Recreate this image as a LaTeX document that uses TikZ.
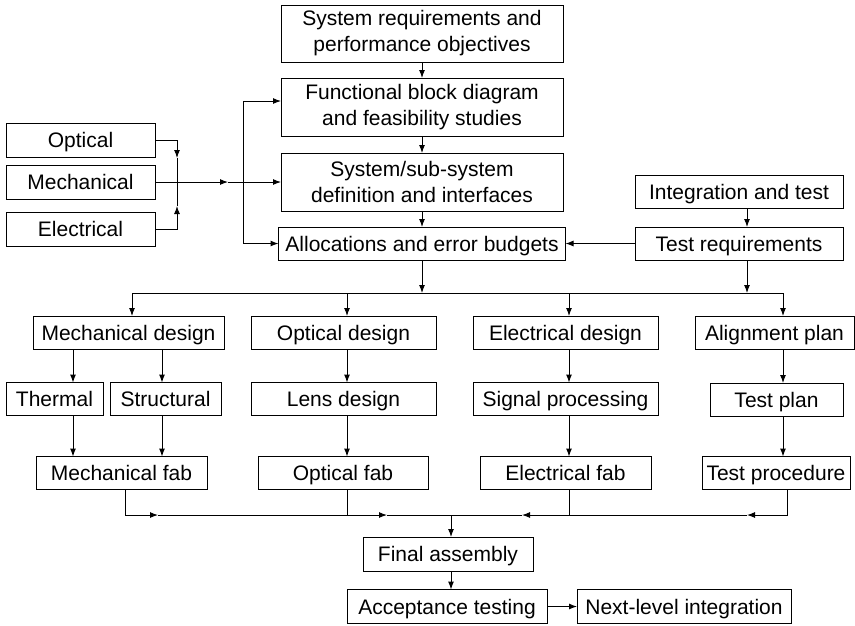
\documentclass[tikz,border=0pt]{standalone}
\usepackage{fontspec}
\setmainfont{Liberation Sans}
\usetikzlibrary{arrows.meta}

\begin{document}
\begin{tikzpicture}[x=1pt, y=-1pt, line width=1pt,
  >={Latex[length=8pt,width=6pt]},
  block/.style={draw=black, rectangle, inner sep=2pt, outer sep=0pt, align=center,
    font={\fontsize{21}{26}\selectfont}, minimum height=33pt},
  oneline/.style={block, text height=18pt, text depth=3pt}]
\useasboundingbox (0,0) rectangle (855,625);
% columns
\coordinate (c1) at (132,0);
\coordinate (c2) at (347,0);
\coordinate (c3) at (569,0);
\coordinate (c4) at (783,0);
\coordinate (tcol) at (73,0);
\coordinate (scol) at (162,0);
% top chain
\node[block, minimum width=282pt, minimum height=57pt] (sysreq) at (422,33.5) {System requirements and\\performance objectives};
\node[block, minimum width=282pt, minimum height=58pt] (func) at (422,107) {Functional block diagram\\and feasibility studies};
\node[block, minimum width=282pt, minimum height=58pt] (sysdef) at (422,182) {System/sub-system\\definition and interfaces};
\node[oneline, minimum width=287pt] (alloc) at (422,243.5) {Allocations and error budgets};
\node[oneline, minimum width=149pt, minimum height=34pt] (optical) at (80.5,140) {Optical};
\node[oneline, minimum width=149pt, minimum height=34pt] (mechanical) at (80.5,182) {Mechanical};
\node[oneline, minimum width=149pt, minimum height=34pt] (electrical) at (80.5,229) {Electrical};
\node[oneline, minimum width=208pt] (integ) at (739,191.5) {Integration and test};
\node[oneline, minimum width=208pt] (testreq) at (739,243.5) {Test requirements};
% design row
\node[oneline, minimum width=191pt] (mechdes) at (128.5,332.5) {Mechanical design};
\node[oneline, minimum width=185pt] (optdes) at (343.5,332.5) {Optical design};
\node[oneline, minimum width=185pt] (eldes) at (565.5,332.5) {Electrical design};
\node[oneline, minimum width=159pt] (align) at (774.5,332.5) {Alignment plan};
\node[oneline, minimum width=97pt] (thermal) at (54.5,399) {Thermal};
\node[oneline, minimum width=111pt] (structural) at (165.5,399) {Structural};
\node[oneline, minimum width=185pt] (lens) at (343.5,399) {Lens design};
\node[oneline, minimum width=185pt] (signal) at (565.5,399) {Signal processing};
\node[oneline, minimum width=133pt] (testplan) at (776.5,399.5) {Test plan};
\node[oneline, minimum width=171pt] (mechfab) at (121.5,473) {Mechanical fab};
\node[oneline, minimum width=170pt] (optfab) at (343,473) {Optical fab};
\node[oneline, minimum width=171pt] (elfab) at (565.5,473) {Electrical fab};
\node[oneline, minimum width=148pt] (testproc) at (776,473) {Test procedure};
\node[oneline, minimum width=170pt, minimum height=34pt] (final) at (448,554) {Final assembly};
\node[oneline, minimum width=200pt, minimum height=34pt] (accept) at (447,606.5) {Acceptance testing};
\node[oneline, minimum width=214pt, minimum height=34pt] (next) at (684,606.5) {Next-level integration};
% inputs on the left
\coordinate (otip) at (177,158);
\coordinate (etip) at (177,206);
\coordinate (merge) at (177,182);
\coordinate (mtip) at (228,182);
\coordinate (fork) at (243,182);
\draw[->] (optical) -| (otip);
\draw (otip) -- (merge);
\draw[->] (electrical) -| (etip);
\draw (etip) -- (merge);
\draw[->] (mechanical) -- (mtip);
\draw[->] (mtip) -- (sysdef);
\draw[->] (fork) |- ([yshift=6pt]func.west);
\draw[->] (fork) |- (alloc.west);
% top chain
\draw[->] (sysreq) -- (func);
\draw[->] (func) -- (sysdef);
\draw[->] (sysdef) -- (alloc);
\draw[->] ([xshift=8pt]integ.south) -- ([xshift=8pt]testreq.north);
\draw[->] (testreq) -- (alloc);
% split bus
\coordinate (bus) at (422,293);
\draw[->] (alloc) -- (bus);
\draw[->] ([xshift=8pt]testreq.south) -- ([xshift=8pt]testreq.south |- bus);
\draw[->] (bus) -| (mechdes.north -| c1);
\draw[->] (bus) -| (optdes.north -| c2);
\draw[->] (bus) -| (eldes.north -| c3);
\draw[->] (bus) -| (align.north -| c4);
% columns
\draw[->] (mechdes.south -| tcol) -- (thermal.north -| tcol);
\draw[->] (mechdes.south -| scol) -- (structural.north -| scol);
\draw[->] (thermal.south -| tcol) -- (mechfab.north -| tcol);
\draw[->] (structural.south -| scol) -- (mechfab.north -| scol);
\draw[->] (optdes.south -| c2) -- (lens.north -| c2);
\draw[->] (lens.south -| c2) -- (optfab.north -| c2);
\draw[->] (eldes.south -| c3) -- (signal.north -| c3);
\draw[->] (signal.south -| c3) -- (elfab.north -| c3);
\draw[->] (align.south -| c4) -- (testplan.north -| c4);
\draw[->] (testplan.south -| c4) -- (testproc.north -| c4);
% merge bus
\coordinate (join) at (451,515);
\coordinate (f1) at (125,515);
\coordinate (f4) at (787,515);
\coordinate (ltip1) at (158,515);
\coordinate (ltip2) at (387,515);
\coordinate (rtip2) at (522,515);
\coordinate (rtip1) at (747,515);
\draw[->] (mechfab.south -| f1) |- (ltip1);
\draw[->] (ltip1) -- (ltip2);
\draw (ltip2) -- (join);
\draw (optfab.south -| c2) -- (join -| c2);
\draw (elfab.south -| c3) -- (join -| c3);
\draw[->] (testproc.south -| f4) |- (rtip1);
\draw[->] (rtip1) -- (rtip2);
\draw (rtip2) -- (join);
\draw[->] (join) -- (final.north -| join);
\draw[->] (final.south -| join) -- (accept.north -| join);
\draw[->] (accept) -- (next);
\end{tikzpicture}
\end{document}
